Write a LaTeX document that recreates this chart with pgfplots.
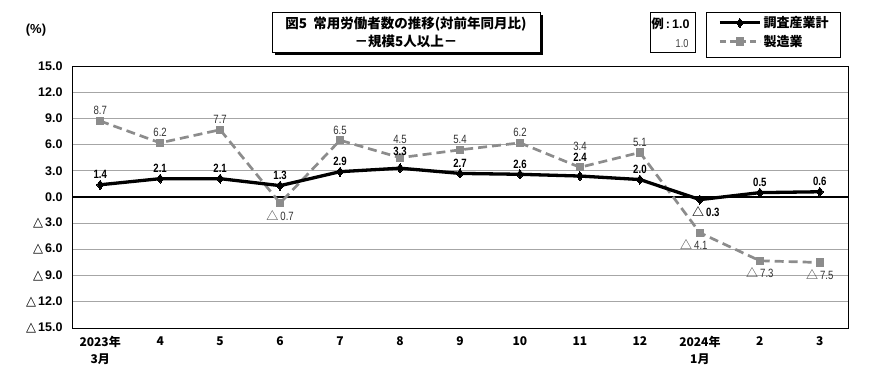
\documentclass[border=0pt]{standalone}
\usepackage{pgfplots}
\pgfplotsset{compat=1.18}
\usepackage{fontspec}
\setmainfont{Liberation Sans}
\newfontfamily\jp{Noto Sans CJK JP}
\newfontfamily\sym{DejaVu Sans}
\newfontfamily\narrow[FakeStretch=0.8]{Liberation Sans}
\newcommand{\tri}{{\jp △}\,}
\newcommand{\ttri}{{\sym\fontsize{13}{13}\selectfont △}\,}
\definecolor{mfg}{RGB}{140,140,140}
\begin{document}
\begin{tikzpicture}[x=1pt,y=1pt]
\path[use as bounding box] (0,0) rectangle (890,383);
\begin{axis}[at={(72pt,55pt)}, anchor=south west, scale only axis,
  width=776pt, height=262pt,
  xmin=-0.47, xmax=12.47, ymin=-15, ymax=15,
  xtick={0,...,12},
  xticklabels={{2023年\\3月},4,5,6,7,8,9,10,11,12,{2024年\\1月},2,3},
  xticklabel style={align=center, font=\jp\bfseries\fontsize{12}{17}\selectfont, anchor=north, yshift=-5pt},
  ytick={-15,-12,...,15},
  yticklabels={\ttri15.0,\ttri12.0,\ttri9.0,\ttri6.0,\ttri3.0,0.0,3.0,6.0,9.0,12.0,15.0},
  yticklabel style={font=\bfseries\fontsize{12.5}{12.5}\selectfont, xshift=-6pt},
  major tick length=0pt,
  ymajorgrids, grid style={gray!70, line width=0.8pt},
  extra y ticks={0}, extra y tick labels={},
  extra y tick style={grid style={black, line width=1.5pt}},
  axis line style={black, line width=0.8pt},
  clip=false,
  nodes near coords, point meta=explicit symbolic,
  visualization depends on={rawy \as \rawy},
  every node near coord/.append style={/utils/exec={\ifdim\rawy pt<0pt \def\myanch{north}\def\mysh{-6pt}\else\def\myanch{south}\def\mysh{5pt}\fi}, anchor=\myanch, inner sep=1pt, yshift=\mysh},
  legend style={at={(0.8286,1.205)}, anchor=north west, draw=none, fill=none,
    font=\jp\bfseries\fontsize{13}{13}\selectfont, row sep=2pt, cells={anchor=west}},
  legend image code/.code={\draw[mark repeat=2,mark phase=2,#1] plot coordinates {(0pt,0pt) (20pt,0pt) (40pt,0pt)};},
]
\addplot[forget plot, mfg, line width=2.7pt, dash pattern=on 9pt off 5pt,
  mark=square*, mark size=3.6pt, mark options={solid, fill=mfg, draw=mfg, line width=0pt},
  nodes near coords style={font=\narrow\fontsize{12}{12}\selectfont, text=black!80}]
coordinates {
(0,8.7) [8.7] (1,6.2) [6.2] (2,7.7) [7.7] (3,-0.7) [\tri 0.7] (4,6.5) [6.5]
(5,4.5) [\raisebox{8pt}{4.5}] (6,5.4) [5.4] (7,6.2) [6.2] (8,3.4) [\raisebox{11pt}{3.4}] (9,5.1) [5.1]
(10,-4.1) [\hspace*{-12pt}\tri 4.1] (11,-7.3) [\tri 7.3] (12,-7.5) [\tri 7.5]
};
\addplot[forget plot, black, line width=3.3pt,
  mark=diamond*, mark size=4.5pt, mark options={solid, fill=black, line width=0pt},
  nodes near coords style={font=\narrow\bfseries\fontsize{12}{12}\selectfont, text=black}]
coordinates {
(0,1.4) [1.4] (1,2.1) [2.1] (2,2.1) [2.1] (3,1.3) [1.3] (4,2.9) [2.9]
(5,3.3) [\raisebox{7pt}{3.3}] (6,2.7) [2.7] (7,2.6) [2.6] (8,2.4) [\raisebox{9pt}{2.4}] (9,2.0) [2.0]
(10,-0.3) [\hspace*{12pt}\tri 0.3] (11,0.5) [0.5] (12,0.6) [0.6]
};
\addlegendimage{black, line width=3.3pt, mark=diamond*, mark size=4.5pt, mark options={solid, fill=black, line width=0pt}}
\addlegendimage{mfg, line width=2.7pt, dash pattern=on 6pt off 4pt, mark=square*, mark size=3.6pt, mark options={solid, fill=mfg, draw=mfg, line width=0pt}}
\legend{調査産業計,製造業}
\end{axis}
% title box with shadow
\fill[black] (275,328) rectangle (543,368);
\draw[black, fill=white, line width=0.8pt] (272,331) rectangle (540,371);
\node[font=\jp\bfseries\fontsize{13.5}{18}\selectfont, align=center] at (406,351) {図5\ \ 常用労働者数の推移(対前年同月比)\\－規模5人以上－};
% example box
\draw[black, line width=0.8pt] (650,331) rectangle (695,371);
\node[anchor=east, font=\bfseries\fontsize{12.5}{12.5}\selectfont] at (693,359) {{\jp 例}\,:\,1.0};
\node[anchor=east, font=\narrow\fontsize{11.5}{11.5}\selectfont, text=black!75] at (692,339) {1.0};
% legend box
\draw[black, line width=0.8pt] (706,326) rectangle (840,371);
% unit label
\node[font=\bfseries\fontsize{13}{13}\selectfont] at (36,353) {(\%)};
\end{tikzpicture}
\end{document}
